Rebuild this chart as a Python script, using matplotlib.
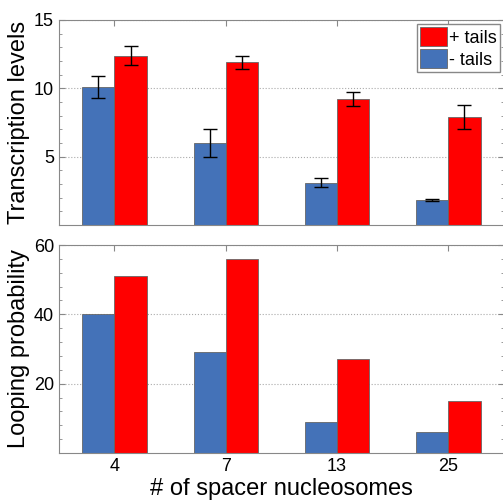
import matplotlib
matplotlib.use("Agg")
import matplotlib.pyplot as plt
import numpy as np
from matplotlib.ticker import MultipleLocator

plt.rcParams['font.family'] = ['Liberation Sans', 'DejaVu Sans']

categories = ["4", "7", "13", "25"]
trans_minus = [10.1, 6.0, 3.1, 1.8]
trans_minus_err = [0.8, 1.0, 0.35, 0.08]
trans_plus = [12.4, 11.9, 9.2, 7.9]
trans_plus_err = [0.7, 0.5, 0.5, 0.9]
loop_minus = [40, 29, 9, 6]
loop_plus = [51, 56, 27, 15]

blue = "#4472b8"
red = "#ff0000"
x = np.arange(1, len(categories) + 1)
w = 0.29

fig = plt.figure(figsize=(5.03, 5.0), dpi=100)
ax1 = fig.add_axes([0.117, 0.55, 0.885, 0.41])
ax2 = fig.add_axes([0.117, 0.094, 0.885, 0.416])

def style(ax, minor):
    for s in ax.spines.values():
        s.set_color("#888888")
    ax.set_xlim(0.5, 4.5)
    ax.set_xticks(x)
    ax.yaxis.set_minor_locator(MultipleLocator(minor))
    ax.tick_params(axis="both", which="major", direction="in", colors="#888888",
                   labelcolor="black", labelsize=13, top=True, right=True, length=4)
    ax.tick_params(axis="y", which="minor", direction="in", left=True, right=True,
                   length=2, colors="#888888")
    ax.yaxis.grid(True, linestyle=":", color="#aaaaaa", linewidth=0.8)
    ax.set_axisbelow(True)

ekw = dict(ecolor="black", capsize=5, elinewidth=1, capthick=1)
ax1.bar(x - w/2, trans_minus, w, color=blue, edgecolor="#666666", linewidth=0.6, label="- tails",
        yerr=trans_minus_err, error_kw=ekw)
ax1.bar(x + w/2, trans_plus, w, color=red, edgecolor="#666666", linewidth=0.6, label="+ tails",
        yerr=trans_plus_err, error_kw=ekw)
ax1.set_ylim(0, 15)
ax1.set_yticks([5, 10, 15])
style(ax1, 1)
ax1.set_xticklabels([])
ax1.set_ylabel("Transcription levels", fontsize=17, labelpad=3)
h, l = ax1.get_legend_handles_labels()
leg = ax1.legend(h[::-1], l[::-1], loc="upper right", fontsize=13, handlelength=1.5, handleheight=1.2,
                 handletextpad=0.1, borderpad=0.2, labelspacing=0.15, fancybox=False, framealpha=1,
                 borderaxespad=0.2)
leg.get_frame().set_edgecolor("#888888")

ax2.bar(x - w/2, loop_minus, w, color=blue, edgecolor="#666666", linewidth=0.6)
ax2.bar(x + w/2, loop_plus, w, color=red, edgecolor="#666666", linewidth=0.6)
ax2.set_ylim(0, 60)
ax2.set_yticks([20, 40, 60])
style(ax2, 4)
ax2.set_xticklabels(categories)
ax2.set_ylabel("Looping probability", fontsize=17, labelpad=3)
ax2.set_xlabel("# of spacer nucleosomes", fontsize=17, labelpad=2)

fig.savefig("out.png", dpi=100)
